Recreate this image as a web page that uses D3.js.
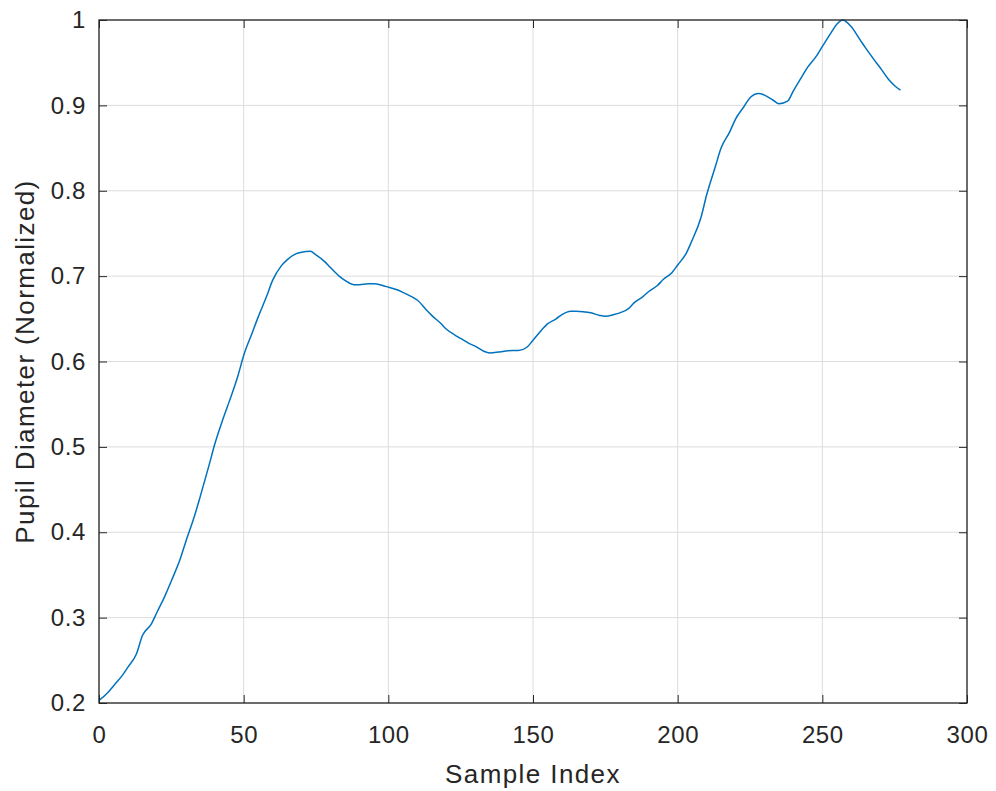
<!DOCTYPE html>
<meta charset="utf-8">
<title>Pupil Diameter</title>
<style>
  body { margin: 0; background: #fff; }
  text { font-family: "Liberation Sans", Arial, sans-serif; fill: #262626; }
  .grid line { stroke: #dcdcdc; stroke-width: 1px; }
  .frame { fill: none; stroke: #262626; stroke-width: 1.3px; }
  .trace { fill: none; stroke: #0072BD; stroke-width: 1.5px; }
</style>
<body>
<script src="https://cdn.jsdelivr.net/npm/d3@7/dist/d3.min.js"></script>
<script>

// sample index / normalized pupil diameter
var sampleIdx = [0, 3, 5, 8, 10, 13, 15, 18, 20, 23, 25, 28, 30, 33, 35, 38, 40, 43, 45, 48,
  50, 53, 55, 58, 60, 63, 65, 68, 70, 73, 75, 78, 80, 83, 85, 88, 90, 93, 95, 98,
  100, 103, 105, 108, 110, 113, 115, 118, 120, 123, 125, 128, 130, 133, 135, 138, 140, 143, 145, 148,
  150, 153, 155, 158, 160, 163, 165, 168, 170, 173, 175, 178, 180, 183, 185, 188, 190, 193, 195, 198,
  200, 203, 205, 208, 210, 213, 215, 218, 220, 223, 225, 228, 230, 233, 235, 238, 240, 243, 245, 248,
  250, 253, 255, 257, 260, 263, 265, 268, 270, 273, 275, 277];
var pupil = [0.203, 0.212, 0.220, 0.232, 0.242, 0.258, 0.279, 0.292, 0.306, 0.327, 0.343, 0.368, 0.389, 0.419, 0.442, 0.478, 0.503, 0.534, 0.553, 0.583,
  0.607, 0.634, 0.652, 0.677, 0.695, 0.712, 0.719, 0.726, 0.728, 0.729, 0.725, 0.717, 0.710, 0.700, 0.695, 0.690, 0.690, 0.691, 0.691, 0.689,
  0.687, 0.684, 0.681, 0.676, 0.672, 0.661, 0.654, 0.645, 0.638, 0.631, 0.627, 0.621, 0.618, 0.612, 0.610, 0.611, 0.612, 0.613, 0.613, 0.617,
  0.625, 0.637, 0.644, 0.650, 0.655, 0.659, 0.659, 0.658, 0.657, 0.654, 0.653, 0.655, 0.657, 0.662, 0.669, 0.676, 0.682, 0.689, 0.696, 0.704,
  0.713, 0.727, 0.742, 0.768, 0.795, 0.828, 0.850, 0.869, 0.884, 0.899, 0.909, 0.914, 0.912, 0.906, 0.902, 0.905, 0.917, 0.934, 0.945, 0.958,
  0.969, 0.985, 0.995, 1.000, 0.992, 0.977, 0.967, 0.953, 0.944, 0.930, 0.923, 0.918];

var xTicks = [0, 50, 100, 150, 200, 250, 300];
var yTicks = [0.2, 0.3, 0.4, 0.5, 0.6, 0.7, 0.8, 0.9, 1];

var W = 996, H = 791;
var L = 99, T = 20, R = 967, B = 703;

var svg = d3.select('body').append('svg').attr('width', W).attr('height', H);

var x = d3.scaleLinear().domain([0, 300]).range([L, R]);
var y = d3.scaleLinear().domain([0.2, 1]).range([B, T]);

// grid
var grid = svg.append('g').attr('class', 'grid');
grid.selectAll('.gx').data(xTicks).enter().append('line')
  .attr('x1', function(d) { return x(d); }).attr('x2', function(d) { return x(d); })
  .attr('y1', T).attr('y2', B);
grid.selectAll('.gy').data(yTicks).enter().append('line')
  .attr('y1', function(d) { return y(d); }).attr('y2', function(d) { return y(d); })
  .attr('x1', L).attr('x2', R);

// the trace
var line = d3.line()
  .x(function(d, i) { return x(sampleIdx[i]); })
  .y(function(d) { return y(d); })
  .curve(d3.curveMonotoneX);
svg.append('path').datum(pupil).attr('class', 'trace').attr('d', line);

// axes with inward ticks on all four sides
var tk = 8;
var tickText = function(g) {
  g.selectAll('text').attr('font-size', 24).attr('letter-spacing', 0.6).attr('fill', '#262626');
};
svg.append('g').attr('transform', 'translate(0,' + B + ')')
  .call(d3.axisBottom(x).tickValues(xTicks).tickSize(-tk).tickPadding(23).tickFormat(d3.format('d')))
  .call(function(g) { g.select('.domain').remove(); g.selectAll('line').attr('stroke', '#262626'); })
  .call(tickText);
svg.append('g').attr('transform', 'translate(0,' + T + ')')
  .call(d3.axisTop(x).tickValues(xTicks).tickSize(-tk).tickFormat(''))
  .call(function(g) { g.select('.domain').remove(); g.selectAll('line').attr('stroke', '#262626'); });
svg.append('g').attr('transform', 'translate(' + L + ',0)')
  .call(d3.axisLeft(y).tickValues(yTicks).tickSize(-tk).tickPadding(13).tickFormat(function(d) { return d === 1 ? '1' : d3.format('.1f')(d); }))
  .call(function(g) { g.select('.domain').remove(); g.selectAll('line').attr('stroke', '#262626'); })
  .call(tickText);
svg.append('g').attr('transform', 'translate(' + R + ',0)')
  .call(d3.axisRight(y).tickValues(yTicks).tickSize(-tk).tickFormat(''))
  .call(function(g) { g.select('.domain').remove(); g.selectAll('line').attr('stroke', '#262626'); });

svg.append('rect').attr('class', 'frame')
  .attr('x', L).attr('y', T).attr('width', R - L).attr('height', B - T);

// labels
svg.append('text').attr('x', (L + R) / 2).attr('y', 783)
  .attr('text-anchor', 'middle').attr('font-size', 26).attr('letter-spacing', 1.4).text('Sample Index');
svg.append('text')
  .attr('transform', 'translate(34,' + ((T + B) / 2) + ') rotate(-90)')
  .attr('text-anchor', 'middle').attr('font-size', 26).attr('letter-spacing', 1.4).text('Pupil Diameter (Normalized)');

</script>
</body>
